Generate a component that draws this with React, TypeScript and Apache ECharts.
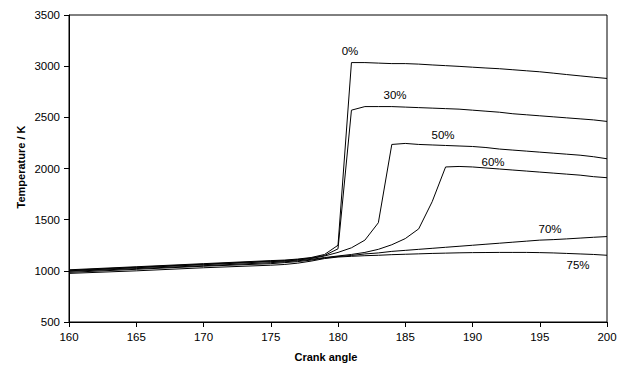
import React, { useEffect, useRef } from "react";
import * as echarts from "echarts";

const angles = [160, 165, 170, 175, 176, 177, 178, 179, 180, 181, 182, 183, 184, 185, 186, 187, 188, 189, 190, 191, 192, 193, 194, 195, 196, 197, 198, 199, 200];

const egr0 = [1010, 1040, 1070, 1100, 1105, 1115, 1130, 1160, 1250, 3035, 3035, 3030, 3025, 3025, 3020, 3012, 3005, 2998, 2990, 2982, 2975, 2965, 2955, 2945, 2932, 2918, 2905, 2892, 2880];
const egr30 = [1005, 1035, 1065, 1095, 1100, 1110, 1125, 1150, 1215, 2570, 2605, 2605, 2605, 2600, 2595, 2590, 2585, 2580, 2570, 2560, 2550, 2535, 2525, 2515, 2505, 2495, 2485, 2475, 2460];
const egr50 = [1000, 1030, 1060, 1090, 1095, 1105, 1120, 1145, 1180, 1225, 1300, 1470, 2235, 2245, 2235, 2230, 2225, 2220, 2215, 2205, 2190, 2180, 2170, 2160, 2150, 2140, 2130, 2115, 2095];
const egr60 = [995, 1022, 1050, 1080, 1088, 1098, 1112, 1130, 1145, 1160, 1180, 1210, 1255, 1315, 1410, 1675, 2015, 2020, 2015, 2005, 1995, 1985, 1975, 1965, 1955, 1945, 1935, 1920, 1910];
const egr70 = [985, 1015, 1045, 1070, 1080, 1090, 1105, 1125, 1140, 1150, 1165, 1175, 1190, 1200, 1210, 1220, 1230, 1240, 1250, 1260, 1270, 1280, 1290, 1300, 1305, 1312, 1320, 1328, 1335];
const egr75 = [975, 1000, 1030, 1055, 1062, 1075, 1095, 1120, 1135, 1142, 1148, 1152, 1158, 1162, 1166, 1170, 1173, 1176, 1178, 1179, 1180, 1180, 1180, 1178, 1175, 1170, 1165, 1160, 1152];

const seriesNames = ["0%", "30%", "50%", "60%", "70%", "75%"];
const seriesValues = [egr0, egr30, egr50, egr60, egr70, egr75];

const xTitle = "Crank angle";
const yTitle = "Temperature / K";

const FONT = "'Liberation Sans', Arial, sans-serif";

export default function App() {
  const ref = useRef<HTMLDivElement>(null);
  useEffect(() => {
    if (!ref.current) return;
    const chart = echarts.init(ref.current, undefined, { renderer: "svg" });
    const labelPos: [number, number][] = [
      [350, 51],
      [395, 95],
      [443, 135],
      [493, 162],
      [550, 229],
      [578, 265],
    ];
    chart.setOption({
      animation: false,
      backgroundColor: "#ffffff",
      textStyle: { fontFamily: FONT },
      grid: {
        left: 69,
        right: 19,
        top: 15,
        bottom: 43,
        show: true,
        borderColor: "#000",
        borderWidth: 1,
        backgroundColor: "transparent",
      },
      xAxis: {
        type: "value",
        min: 160,
        max: 200,
        interval: 5,
        axisLine: { show: true, onZero: false, lineStyle: { color: "#000", width: 1 } },
        axisTick: { show: true, length: 5, lineStyle: { color: "#000" } },
        axisLabel: { color: "#000", fontSize: 11.5, margin: 9, fontFamily: FONT, formatter: (v: number) => String(v) },
        splitLine: { show: false },
      },
      yAxis: {
        type: "value",
        min: 500,
        max: 3500,
        interval: 500,
        axisLine: { show: true, lineStyle: { color: "#000", width: 1 } },
        axisTick: { show: true, length: 5, lineStyle: { color: "#000" } },
        axisLabel: { color: "#000", fontSize: 11.5, margin: 9, fontFamily: FONT, formatter: (v: number) => String(v) },
        splitLine: { show: false },
      },
      series: seriesNames.map((name, i) => ({
        name,
        type: "line",
        data: angles.map((a, j) => [a, seriesValues[i][j]]),
        showSymbol: false,
        symbol: "none",
        lineStyle: { color: "#000", width: 1 },
        emphasis: { disabled: true },
      })),
      graphic: [
        ...seriesNames.map((name, i) => ({
          type: "text",
          x: labelPos[i][0],
          y: labelPos[i][1],
          style: {
            text: name,
            fill: "#000",
            font: `11.5px ${FONT}`,
            align: "center",
            verticalAlign: "middle",
          },
        })),
        {
          type: "text",
          x: 326,
          y: 357,
          style: {
            text: xTitle,
            fill: "#000",
            font: `bold 11px ${FONT}`,
            align: "center",
            verticalAlign: "middle",
          },
        },
        {
          type: "text",
          x: 21,
          y: 167,
          rotation: Math.PI / 2,
          style: {
            text: yTitle,
            fill: "#000",
            font: `bold 11px ${FONT}`,
            align: "center",
            verticalAlign: "middle",
          },
        },
      ],
    });
    return () => chart.dispose();
  }, []);
  return (
    <div
      ref={ref}
      style={{ position: "fixed", left: 0, top: 0, width: 626, height: 365, background: "#fff" }}
    />
  );
}
